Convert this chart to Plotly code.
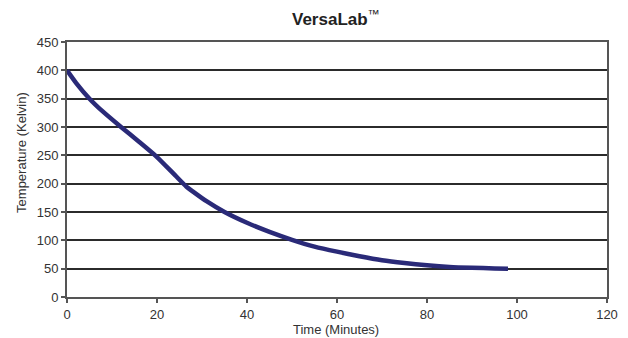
import plotly.graph_objects as go

time_min = [0, 2, 5, 8, 12, 16, 20, 24, 26.5, 28, 31, 35, 40, 45, 50, 55, 60, 65, 70, 75, 80, 85, 90, 95, 98]
temp_k = [400, 378, 350, 327, 300, 274, 247, 215, 195, 186, 169, 150, 131, 115, 101, 89, 80, 72, 65, 60, 56, 53, 51.5, 50.5, 50]

FONT = "Liberation Sans, Arial, sans-serif"
axis_font = dict(family=FONT, size=13, color="#333333")

fig = go.Figure()
fig.add_trace(go.Scatter(
    x=time_min, y=temp_k, mode="lines",
    line=dict(color="#2a2a78", width=4.5, shape="spline", smoothing=0.6),
    showlegend=False, hoverinfo="skip",
))

fig.update_layout(
    width=628, height=338,
    margin=dict(l=67, r=21, t=42, b=41),
    paper_bgcolor="white", plot_bgcolor="white",
    font=axis_font,
    annotations=[
        dict(text="<b>VersaLab</b><sup>™</sup>", xref="paper", yref="paper", x=0.498, y=1,
             yshift=24, xanchor="center", yanchor="middle", showarrow=False,
             font=dict(family=FONT, size=17, color="#222222")),
        dict(text="Time (Minutes)", xref="paper", yref="paper", x=0.498, y=0,
             yshift=-32, xanchor="center", yanchor="middle", showarrow=False, font=axis_font),
        dict(text="Temperature (Kelvin)", xref="paper", yref="paper", x=0, y=0.565,
             xshift=-45, xanchor="center", yanchor="middle", textangle=-90,
             showarrow=False, font=axis_font),
    ],
)
fig.update_xaxes(
    range=[0, 120], tickvals=[0, 20, 40, 60, 80, 100, 120],
    showgrid=False, zeroline=False, automargin=False,
    showline=True, mirror=True, linecolor="#555555", linewidth=2,
    ticks="outside", ticklen=4, tickcolor="#555555", tickwidth=1.5,
    tickfont=axis_font,
)
fig.update_yaxes(
    range=[0, 450], tickvals=[0, 50, 100, 150, 200, 250, 300, 350, 400, 450],
    showgrid=True, gridcolor="#2b2b2b", gridwidth=1.5, zeroline=False, automargin=False,
    showline=True, mirror=True, linecolor="#555555", linewidth=2,
    ticks="outside", ticklen=4, tickcolor="#555555", tickwidth=1.5,
    tickfont=axis_font,
)

fig.write_html("out.html", config={"displayModeBar": False},
               post_script="document.body.style.margin='0';document.body.style.overflow='hidden';")
